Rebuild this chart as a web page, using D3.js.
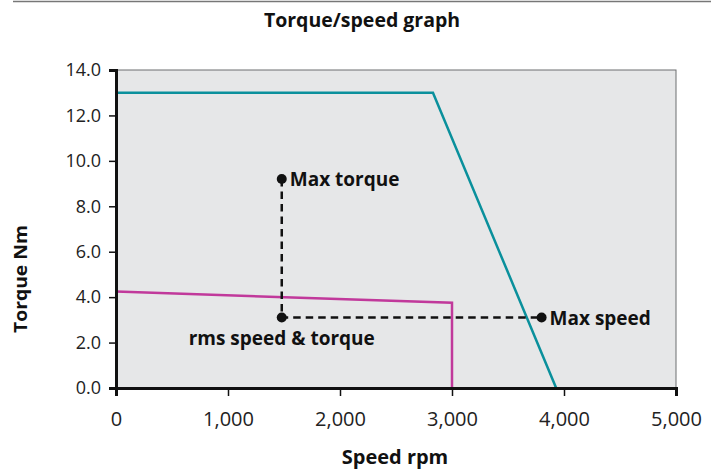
<!DOCTYPE html>
<html>
<head>
<meta charset="utf-8">
<script src="https://cdn.jsdelivr.net/npm/d3@7"></script>
<style>
  html, body { margin: 0; padding: 0; background: #fff; }
  svg { display: block; }
  text { font-family: "Open Sans", "Noto Sans", sans-serif; }
</style>
</head>
<body>
<svg id="chart" width="720" height="471"></svg>
<script>
// ---- Data ----
const title = "Torque/speed graph";
const xLabel = "Speed rpm";
const yLabel = "Torque Nm";
const xTicks = [0, 1000, 2000, 3000, 4000, 5000];
const yTicks = [0, 2, 4, 6, 8, 10, 12, 14];
// peak torque envelope (teal)
const peakSpeed  = [0, 2830, 3930];
const peakTorque = [13.0, 13.0, 0];
// continuous torque envelope (magenta)
const contSpeed  = [0, 3000, 3000];
const contTorque = [4.25, 3.75, 0];
// operating points
const pointNames  = ["Max torque", "rms speed & torque", "Max speed"];
const pointSpeed  = [1480, 1480, 3800];
const pointTorque = [9.2, 3.1, 3.1];

const svg = d3.select("#chart");
const m = { left: 116, right: 676, top: 70, bottom: 388 };

const x = d3.scaleLinear().domain([0, 5000]).range([m.left, m.right]);
const y = d3.scaleLinear().domain([0, 14]).range([m.bottom, m.top]);

// top rule
svg.append("line").attr("x1", 13).attr("x2", 711).attr("y1", 1.5).attr("y2", 1.5)
  .attr("stroke", "#777").attr("stroke-width", 1.5);

// title
svg.append("text").attr("x", 362).attr("y", 27).attr("text-anchor", "middle")
  .attr("font-size", 19.5).attr("font-weight", 700).attr("fill", "#111").text(title);

// plot background
svg.append("rect").attr("x", m.left).attr("y", m.top)
  .attr("width", m.right - m.left).attr("height", m.bottom - m.top)
  .attr("fill", "#e6e7e8").attr("stroke", "#6d6e71").attr("stroke-width", 1);

// lines
const line = d3.line().x(d => x(d[0])).y(d => y(d[1]));
svg.append("path").datum(peakSpeed.map((s, i) => [s, peakTorque[i]]))
  .attr("d", line).attr("fill", "none").attr("stroke", "#0a909c").attr("stroke-width", 2.5);
svg.append("path").datum(contSpeed.map((s, i) => [s, contTorque[i]]))
  .attr("d", line).attr("fill", "none").attr("stroke", "#c1399b").attr("stroke-width", 2.5);

// dashed connector
const dashPts = [[pointSpeed[0], pointTorque[0]], [pointSpeed[1], pointTorque[1]], [pointSpeed[2], pointTorque[2]]];
svg.append("path").datum(dashPts).attr("d", line).attr("fill", "none")
  .attr("stroke", "#111").attr("stroke-width", 2.5).attr("stroke-dasharray", "7.5,5");

// points
svg.selectAll("circle.pt").data(pointSpeed).enter().append("circle")
  .attr("class", "pt").attr("cx", (d) => x(d)).attr("cy", (d, i) => y(pointTorque[i]))
  .attr("r", 5).attr("fill", "#111");

// point labels
const lab = svg.append("g").attr("font-size", 19).attr("font-weight", 700).attr("fill", "#111");
lab.append("text").attr("x", x(pointSpeed[0]) + 8).attr("y", y(pointTorque[0]) + 7).text(pointNames[0]);
lab.append("text").attr("x", x(pointSpeed[1])).attr("y", y(pointTorque[1]) + 27)
  .attr("text-anchor", "middle").text(pointNames[1]);
lab.append("text").attr("x", x(pointSpeed[2]) + 8).attr("y", y(pointTorque[2]) + 7).text(pointNames[2]);

// axes
const xAxis = svg.append("g").attr("transform", `translate(0,${m.bottom})`)
  .call(d3.axisBottom(x).tickValues(xTicks).tickSize(8).tickPadding(16)
    .tickFormat(d3.format(",")));
const yAxis = svg.append("g").attr("transform", `translate(${m.left},0)`)
  .call(d3.axisLeft(y).tickValues(yTicks).tickSize(7).tickPadding(8)
    .tickFormat(d3.format(".1f")));
[xAxis, yAxis].forEach(a => {
  a.select(".domain").attr("stroke", "#111").attr("stroke-width", 3);
  a.selectAll(".tick line").attr("stroke", "#111").attr("stroke-width", 1.5);
  a.selectAll(".tick text").attr("fill", "#222")
    .attr("font-family", "'Open Sans', 'Noto Sans', sans-serif");
});
xAxis.selectAll(".tick text").attr("font-size", 20);
yAxis.selectAll(".tick text").attr("font-size", 18);

// axis titles
svg.append("text").attr("x", 395).attr("y", 464).attr("text-anchor", "middle")
  .attr("font-size", 20).attr("font-weight", 700).attr("fill", "#111").text(xLabel);
svg.append("text").attr("transform", "translate(27,279) rotate(-90)")
  .attr("text-anchor", "middle").attr("font-size", 17).attr("font-weight", 700)
  .attr("fill", "#111")
  .attr("textLength", 108).attr("lengthAdjust", "spacingAndGlyphs").text(yLabel);
</script>
</body>
</html>
